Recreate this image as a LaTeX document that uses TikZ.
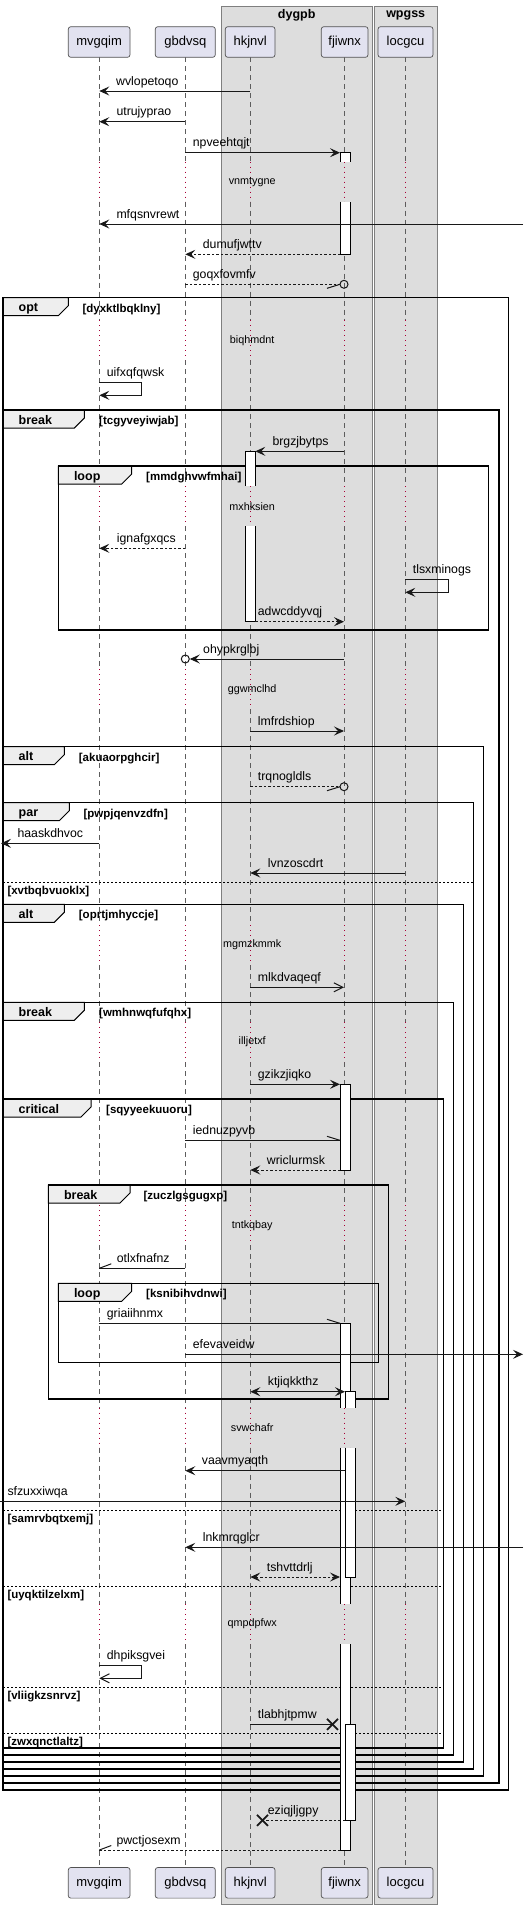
\documentclass[tikz,border=0pt]{standalone}
\usepackage{fontspec}
\setmainfont{Liberation Sans}
\usetikzlibrary{arrows.meta}
\definecolor{partfill}{HTML}{E2E2F0}
\definecolor{boxfill}{HTML}{DDDDDD}
\definecolor{boxline}{HTML}{7F7F7F}
\definecolor{tabfill}{HTML}{EEEEEE}
\definecolor{delayred}{HTML}{A80036}
\definecolor{ink}{HTML}{181818}
\tikzset{
 part/.style={draw=ink!75, fill=partfill, rounded corners=2.5pt, line width=0.7pt, inner sep=0pt, minimum height=30.6pt, font=\fontsize{13}{15}\selectfont},
 grptitle/.style={inner sep=0pt, font=\bfseries\fontsize{12.5}{14}\selectfont},
 life/.style={draw=ink!70, line width=0.6pt, dash pattern=on 5pt off 4pt},
 dly/.style={draw=delayred, line width=0.9pt, dash pattern=on 1pt off 4pt},
 msg/.style={draw=ink, line width=1pt},
 ret/.style={msg, dash pattern=on 2.5pt off 2pt},
 fh/.style={-{Stealth[length=10pt,width=9pt,inset=4pt]}},
 fhb/.style={{Stealth[length=10pt,width=9pt,inset=4pt]}-{Stealth[length=10pt,width=9pt,inset=4pt]}},
 oh/.style={-{Straight Barb[length=9pt,width=9pt]}},
 xmark/.style={draw=ink, line width=1.8pt},
 lbl/.style={anchor=base west, inner sep=0pt, font=\fontsize{12.3}{14}\selectfont},
 dtext/.style={inner sep=0pt, font=\fontsize{10.8}{12}\selectfont},
 frm/.style={draw=black, line width=1.5pt},
 tabst/.style={draw=black, line width=1pt, fill=tabfill},
 kw/.style={anchor=base west, inner sep=0pt, font=\bfseries\fontsize{12.5}{14}\selectfont},
 cond/.style={anchor=base west, inner sep=0pt, font=\bfseries\fontsize{11.5}{13}\selectfont},
 sepl/.style={draw=black, line width=1pt, dash pattern=on 2pt off 2pt},
 actl/.style={draw=black, line width=1pt},
}
% frame: name, x0, y0, x1, y1, tab right, keyword, cond x, cond
\newcommand\grp[9]{%
 \draw[tabst] (#2,#3) -- (#6,#3) -- (#6,#3+8) -- (#6-10,#3+18) -- (#2,#3+18) -- cycle;
 \draw[frm] (#2,#3) rectangle (#4,#5);
 \node[kw] (#1k) at (#2+15.5,#3+14) {#7};
 \node[cond] (#1c) at (#8,#3+14.5) {#9};
}
% separator: name, x0, x1, y, cond
\newcommand\sepr[5]{%
 \draw[sepl] (#2,#4) -- (#3,#4);
 \node[cond] (#1) at (#2+4.3,#4+12) {#5};
}
% message: name, style, x1, x2, y, label x, text
\newcommand\msg[7]{%
 \coordinate (#1a) at (#3,#5);
 \coordinate (#1b) at (#4,#5);
 \draw[#2] (#1a) -- (#1b);
 \node[lbl] (#1) at (#6,#5-6) {#7};
}
% self message: name, style, x, y1, y2, xr, label x, text
\newcommand\selfmsg[8]{%
 \coordinate (#1a) at (#3,#4);
 \coordinate (#1b) at (#3,#5);
 \draw[#2] (#1a) -- (#6,#4) -- (#6,#5) -- (#1b);
 \node[lbl] (#1) at (#7,#4-6) {#8};
}
% activation segments: x0, ytop, ybot
\newcommand\actT[3]{\fill[white] (#1,#2) rectangle (#1+10,#3); \draw[actl] (#1,#3) -- (#1,#2) -- (#1+10,#2) -- (#1+10,#3);}
\newcommand\actB[3]{\fill[white] (#1,#2) rectangle (#1+10,#3); \draw[actl] (#1,#2) -- (#1,#3) -- (#1+10,#3) -- (#1+10,#2);}
\newcommand\actO[3]{\fill[white] (#1,#2) rectangle (#1+10,#3); \draw[actl] (#1,#2) -- (#1,#3); \draw[actl] (#1+10,#2) -- (#1+10,#3);}
\newcommand\actC[3]{\draw[actl, fill=white] (#1,#2) rectangle (#1+10,#3);}

\begin{document}
\begin{tikzpicture}[x=1pt, y=-1pt]
\useasboundingbox (0,0) rectangle (523,1909);
\fill[white] (0,0) rectangle (523,1909);

% participant groups
\draw[boxline, fill=boxfill, line width=1pt] (221.3,6) rectangle (372,1904);
\draw[boxline, fill=boxfill, line width=1pt] (374,6) rectangle (437,1904);
\node[grptitle] (dygpb) at (296.7,15.5) {dygpb};
\node[grptitle] (wpgss) at (405.7,15.5) {wpgss};

% lifelines
\foreach \x in {99.3,185.3,250.3,344,405.3} {
 \foreach \a/\b in {57.3/161.7, 201.7/320, 360/486, 526/669, 709/925, 965/1022, 1062/1205, 1245/1407.7, 1447.7/1604, 1644/1867.3}
  \draw[life] (\x,\a) -- (\x,\b);
 \foreach \a/\b in {161.7/201.7, 320/360, 486/526, 669/709, 925/965, 1022/1062, 1205/1245, 1407.7/1447.7, 1604/1644}
  \draw[dly] (\x,\a) -- (\x,\b);
}

% participants
\foreach \n/\x/\w in {mvgqim/99.15/61.7, gbdvsq/185.3/60, hkjnvl/250.15/49.7, fjiwnx/344.65/46.7, locgcu/405.5/55} {
 \node[part, minimum width=\w pt] (\n T) at (\x,42) {\n};
 \node[part, minimum width=\w pt] (\n B) at (\x,1882.8) {\n};
}

% frames
\grp{fopt}{3}{297.7}{508.3}{1790}{68.3}{opt}{82.3}{[dyxktlbqklny]}
\grp{fbrka}{3}{410}{499}{1783}{84.3}{break}{99}{[tcgyveyiwjab]}
\grp{flpa}{58.3}{466}{488.7}{630}{131.7}{loop}{146}{[mmdghvwfmhai]}
\grp{falta}{3}{746.7}{483.3}{1776}{64.3}{alt}{78.7}{[akuaorpghcir]}
\grp{fpar}{3}{802.7}{473.3}{1769}{69.3}{par}{83.3}{[pwpjqenvzdfn]}
\sepr{spar}{3}{473.3}{882}{[xvtbqbvuoklx]}
\grp{faltb}{3}{904.3}{463.3}{1762}{64.3}{alt}{78.7}{[oprtjmhyccje]}
\grp{fbrkb}{3}{1002.3}{453.3}{1755}{84.3}{break}{99}{[wmhnwqfufqhx]}
\grp{fcrit}{3}{1099}{443.3}{1748}{91}{critical}{106}{[sqyyeekuuoru]}
\sepr{sca}{3}{443.3}{1510.3}{[samrvbqtxemj]}
\sepr{scb}{3}{443.3}{1586}{[uyqktilzelxm]}
\sepr{scc}{3}{443.3}{1687.3}{[vliigkzsnrvz]}
\sepr{scd}{3}{443.3}{1733.3}{[zwxqnctlaltz]}
\grp{fbrkc}{48.3}{1185}{388.3}{1399}{130}{break}{143.3}{[zuczlgsgugxp]}
\grp{flpb}{58.3}{1283.3}{378.7}{1362.3}{131.7}{loop}{146}{[ksnibihvdnwi]}

% activations
\actT{340}{152.7}{161.7}
\actB{340}{201.7}{254.3}
\actT{245.3}{451.3}{486}
\actB{245.3}{526}{621.7}
\actC{340}{1084.3}{1170}
\actT{340}{1323.3}{1407.7}
\actO{340}{1447.7}{1604}
\actB{340}{1644}{1850}
\actT{345}{1391.7}{1407.7}
\actB{345}{1447.7}{1577}
\actC{345}{1724.3}{1820.3}

% delays
\foreach \t/\y in {vnmtygne/181.7, biqhmdnt/340.3, mxhksien/506.3, ggwmclhd/689.3, mgmzkmmk/944.7, illjetxf/1041.7, tntkqbay/1225.3, svwchafr/1427.7, qmpdpfwx/1624}
 \node[dtext] (d\t) at (252.2,\y) {\t};

% messages
\msg{m1}{msg,fh}{250.3}{99.3}{91}{116}{wvlopetoqo}
\msg{m2}{msg,fh}{185.3}{99.3}{121.7}{116.3}{utrujyprao}
\msg{m3}{msg,fh}{185.3}{340}{152.7}{192.7}{npveehtqjt}
\msg{m4}{msg,fh}{523}{99.3}{224}{116.3}{mfqsnvrewt}
\msg{m5}{ret,fh}{340}{185.3}{254.3}{202.7}{dumufjwttv}
\msg{m6}{ret}{185.3}{340}{284.3}{192.7}{goqxfovmfv}
\draw[msg] (m6b) -- ++(-13,4);
\draw[msg] ([xshift=4pt]m6b) circle (4pt);
\selfmsg{m7}{msg,fh}{99.3}{382.3}{395.3}{141.7}{106.7}{uifxqfqwsk}
\msg{m8}{msg,fh}{344}{255.3}{451.3}{272.3}{brgzjbytps}
\msg{m9}{ret,fh}{185.3}{99.3}{548.3}{116.7}{ignafgxqcs}
\selfmsg{m10}{msg,fh}{405.3}{579.3}{592.3}{448.3}{412.7}{tlsxminogs}
\msg{m11}{ret,fh}{255.3}{344}{621.7}{257.7}{adwcddyvqj}
\msg{m12}{msg,fh}{344}{189.8}{659}{203}{ohypkrglbj}
\draw[msg] ([xshift=-4.5pt]m12b) circle (4pt);
\msg{m13}{msg,fh}{250.3}{344}{731}{257.7}{lmfrdshiop}
\msg{m14}{ret}{250.3}{340}{786.7}{257.7}{trqnogldls}
\draw[msg] (m14b) -- ++(-13,4);
\draw[msg] ([xshift=4pt]m14b) circle (4pt);
\msg{m15}{msg,fh}{99.3}{1}{843.3}{17.3}{haaskdhvoc}
\msg{m16}{msg,fh}{405.3}{250.3}{873}{267.7}{lvnzoscdrt}
\msg{m17}{msg,oh}{250.3}{344}{987.3}{257.7}{mlkdvaqeqf}
\msg{m18}{msg,fh}{250.3}{340}{1084.3}{257.7}{gzikzjiqko}
\msg{m19}{msg}{185.3}{340}{1140.3}{192.7}{iednuzpyvb}
\draw[msg] (m19b) -- ++(-13,-4);
\msg{m20}{ret,fh}{340}{250.3}{1170}{266.7}{wriclurmsk}
\msg{m21}{msg}{185.3}{99.3}{1268.3}{116.7}{otlxfnafnz}
\draw[msg] (m21b) -- ++(12,-4.5);
\msg{m22}{msg}{99.3}{340}{1323.3}{106.7}{griaiihnmx}
\draw[msg] (m22b) -- ++(-13,-4);
\msg{m23}{msg,fh}{185.3}{523}{1354.3}{192.7}{efevaveidw}
\msg{m24}{msg,fhb}{250.3}{345}{1391.7}{267.7}{ktjiqkkthz}
\msg{m25}{msg,fh}{345}{185.3}{1470.7}{201.7}{vaavmyaqth}
\msg{m26}{msg,fh}{0}{405.3}{1501.3}{7.3}{sfzuxxiwqa}
\msg{m27}{msg,fh}{523}{185.3}{1547.3}{202.7}{lnkmrqglcr}
\msg{m28}{ret,fhb}{250.3}{340}{1577}{266.7}{tshvttdrlj}
\selfmsg{m29}{msg,oh}{99.3}{1665.7}{1678.3}{141.7}{106.7}{dhpiksgvei}
\msg{m30}{msg}{250.3}{332.5}{1724.3}{257.7}{tlabhjtpmw}
\draw[xmark] ([shift={(-5.5,-5.5)}]m30b) -- ([shift={(5.5,5.5)}]m30b);
\draw[xmark] ([shift={(-5.5,5.5)}]m30b) -- ([shift={(5.5,-5.5)}]m30b);
\msg{m31}{ret}{345}{262.5}{1820.3}{267.7}{eziqjljgpy}
\draw[xmark] ([shift={(-5.5,-5.5)}]m31b) -- ([shift={(5.5,5.5)}]m31b);
\draw[xmark] ([shift={(-5.5,5.5)}]m31b) -- ([shift={(5.5,-5.5)}]m31b);
\msg{m32}{ret}{340}{99.3}{1850}{116.3}{pwctjosexm}
\draw[msg] (m32b) -- ++(12,-4.5);
\end{tikzpicture}
\end{document}
